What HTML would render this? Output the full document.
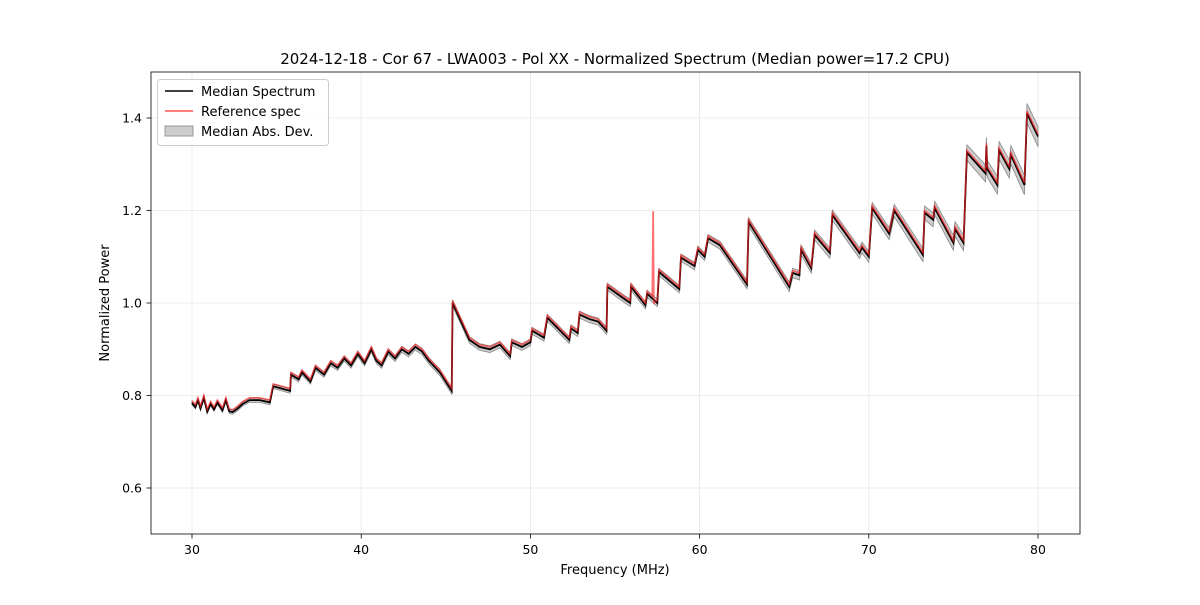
<!DOCTYPE html>
<html><head><meta charset="utf-8">
<style>
body{margin:0;background:#fff;font-family:"Liberation Sans","DejaVu Sans",sans-serif;}
svg text{font-family:"DejaVu Sans","Liberation Sans",sans-serif;}
</style></head>
<body>
<svg id="chart" width="1200" height="600" xmlns="http://www.w3.org/2000/svg">
<rect width="1200" height="600" fill="#fff"/>
<g id="grid"></g>
<g id="band"></g>
<g id="lines"></g>
<g id="axes"></g>
<text x="615" y="64" font-size="15" text-anchor="middle">2024-12-18 - Cor 67 - LWA003 - Pol XX - Normalized Spectrum (Median power=17.2 CPU)</text>
<text x="615" y="574" font-size="13" text-anchor="middle">Frequency (MHz)</text>
<text transform="translate(109,303) rotate(-90)" font-size="13" text-anchor="middle">Normalized Power</text>
<g>
<rect x="157.5" y="79.5" width="171" height="66" rx="3" fill="#fff" fill-opacity="0.8" stroke="#ccc"/>
<line x1="165" y1="91" x2="193" y2="91" stroke="#000" stroke-width="1.5"/>
<text x="201" y="96" font-size="13">Median Spectrum</text>
<line x1="165" y1="111" x2="193" y2="111" stroke="#ff5555" stroke-width="1.5"/>
<text x="201" y="116" font-size="13">Reference spec</text>
<rect x="165" y="126" width="28" height="10" fill="#bbb" fill-opacity="0.75" stroke="#999"/>
<text x="201" y="136" font-size="13">Median Abs. Dev.</text>
</g>
</svg>
<script>
const freqs=[30,30.2,30.35,30.5,30.7,30.9,31.1,31.3,31.5,31.8,32.0,32.2,32.4,32.7,33.0,33.4,34.0,34.6,34.8,35.8,35.85,36.3,36.5,37.0,37.3,37.8,38.2,38.6,39.0,39.4,39.8,40.2,40.6,40.9,41.2,41.6,42.0,42.4,42.8,43.2,43.6,44.0,44.65,45.35,45.4,46.4,47.0,47.6,48.2,48.8,48.9,49.5,50.0,50.1,50.8,51.0,52.3,52.4,52.8,52.9,53.5,54.0,54.5,54.55,55.5,55.9,55.95,56.8,56.9,57.2,57.5,57.6,58.8,58.9,59.7,59.9,60.3,60.5,61.2,62.8,62.9,65.3,65.5,65.9,66.0,66.6,66.8,67.7,67.85,69.45,69.6,70.0,70.2,71.2,71.3,71.5,73.2,73.3,73.8,73.9,75.0,75.1,75.6,75.8,76.9,76.95,77.0,77.6,77.7,78.3,78.4,79.2,79.35,80];
const medianVals=[0.784,0.775,0.79,0.772,0.795,0.765,0.782,0.77,0.785,0.768,0.79,0.766,0.764,0.772,0.782,0.79,0.79,0.785,0.82,0.81,0.845,0.835,0.85,0.83,0.86,0.845,0.87,0.86,0.88,0.865,0.89,0.87,0.9,0.875,0.865,0.895,0.88,0.9,0.89,0.905,0.895,0.875,0.85,0.81,1.0,0.92,0.905,0.9,0.91,0.885,0.915,0.905,0.915,0.94,0.925,0.968,0.92,0.945,0.935,0.975,0.965,0.96,0.94,1.035,1.01,1.0,1.035,0.995,1.02,1.01,1.0,1.067,1.03,1.098,1.08,1.115,1.1,1.14,1.125,1.04,1.175,1.035,1.065,1.06,1.115,1.075,1.147,1.108,1.19,1.108,1.12,1.1,1.205,1.15,1.165,1.2,1.104,1.195,1.18,1.205,1.13,1.16,1.13,1.325,1.28,1.34,1.29,1.255,1.33,1.29,1.32,1.255,1.41,1.36];
const refOffset=0.005;
const refSpikeFreq=[57.25,57.26,57.3];
const refSpikeVals=[1.197,1.197,1.0];
const madFreqs=[30,45,60,70,75,80];
const madVals=[0.004,0.007,0.008,0.012,0.016,0.022];
const xTicks=[30,40,50,60,70,80];
const yTicks=[0.6,0.8,1.0,1.2,1.4];
const NS="http://www.w3.org/2000/svg";
const X=f=>192+(f-30)*(1038-192)/50;
const Y=v=>534.25-(v-0.5)*(534.25-71.75);
function mad(f){for(let i=1;i<madFreqs.length;i++){if(f<=madFreqs[i]){const t=(f-madFreqs[i-1])/(madFreqs[i]-madFreqs[i-1]);return madVals[i-1]+t*(madVals[i]-madVals[i-1]);}}return madVals[madVals.length-1];}
function mk(tag,attrs,parent){const e=document.createElementNS(NS,tag);for(const k in attrs)e.setAttribute(k,attrs[k]);parent.appendChild(e);return e;}
const grid=document.getElementById('grid'),axes=document.getElementById('axes'),band=document.getElementById('band'),lines=document.getElementById('lines');
xTicks.forEach(t=>{const x=X(t);
const g=mk('line',{x1:x,x2:x,y1:72,y2:534,stroke:'#e6e6e6','stroke-width':0.8},grid);


mk('line',{x1:x,x2:x,y1:534,y2:538.5,stroke:'#000','stroke-width':0.8},axes);
const tx=mk('text',{x:x,y:554,'font-size':12.5,'text-anchor':'middle'},axes);tx.textContent=t;

});
yTicks.forEach(t=>{const y=Y(t);
const g=mk('line',{x1:151,x2:1080,y1:y,y2:y,stroke:'#e6e6e6','stroke-width':0.8},grid);


mk('line',{x1:146.5,x2:151,y1:y,y2:y,stroke:'#000','stroke-width':0.8},axes);
const tx=mk('text',{x:142,y:y+4.5,'font-size':12.5,'text-anchor':'end'},axes);tx.textContent=t.toFixed(1);

});
const frame=mk('rect',{x:151,y:72,width:929,height:462,fill:'none',stroke:'#000','stroke-width':0.8},axes);


let up=[],dn=[];
freqs.forEach((f,i)=>{up.push(X(f)+','+Y(medianVals[i]+mad(f)));dn.unshift(X(f)+','+Y(medianVals[i]-mad(f)));});
const poly=mk('polygon',{points:up.concat(dn).join(' '),fill:'#aaa','fill-opacity':0.6,stroke:'#888','stroke-width':0.8},band);


const med=mk('polyline',{points:freqs.map((f,i)=>X(f)+','+Y(medianVals[i])).join(' '),fill:'none',stroke:'#000','stroke-width':1.8},lines);


let rpts=[];let spikeDone=false;
freqs.forEach((f,i)=>{if(!spikeDone&&f>refSpikeFreq[0]){spikeDone=true;refSpikeFreq.forEach((sf,j)=>rpts.push(X(sf)+','+Y(refSpikeVals[j])));}rpts.push(X(f)+','+Y(medianVals[i]+refOffset));});
const ref=mk('polyline',{points:rpts.join(' '),fill:'none',stroke:'#ff2222','stroke-opacity':0.65,'stroke-width':1.6},lines);


</script>
</body></html>
